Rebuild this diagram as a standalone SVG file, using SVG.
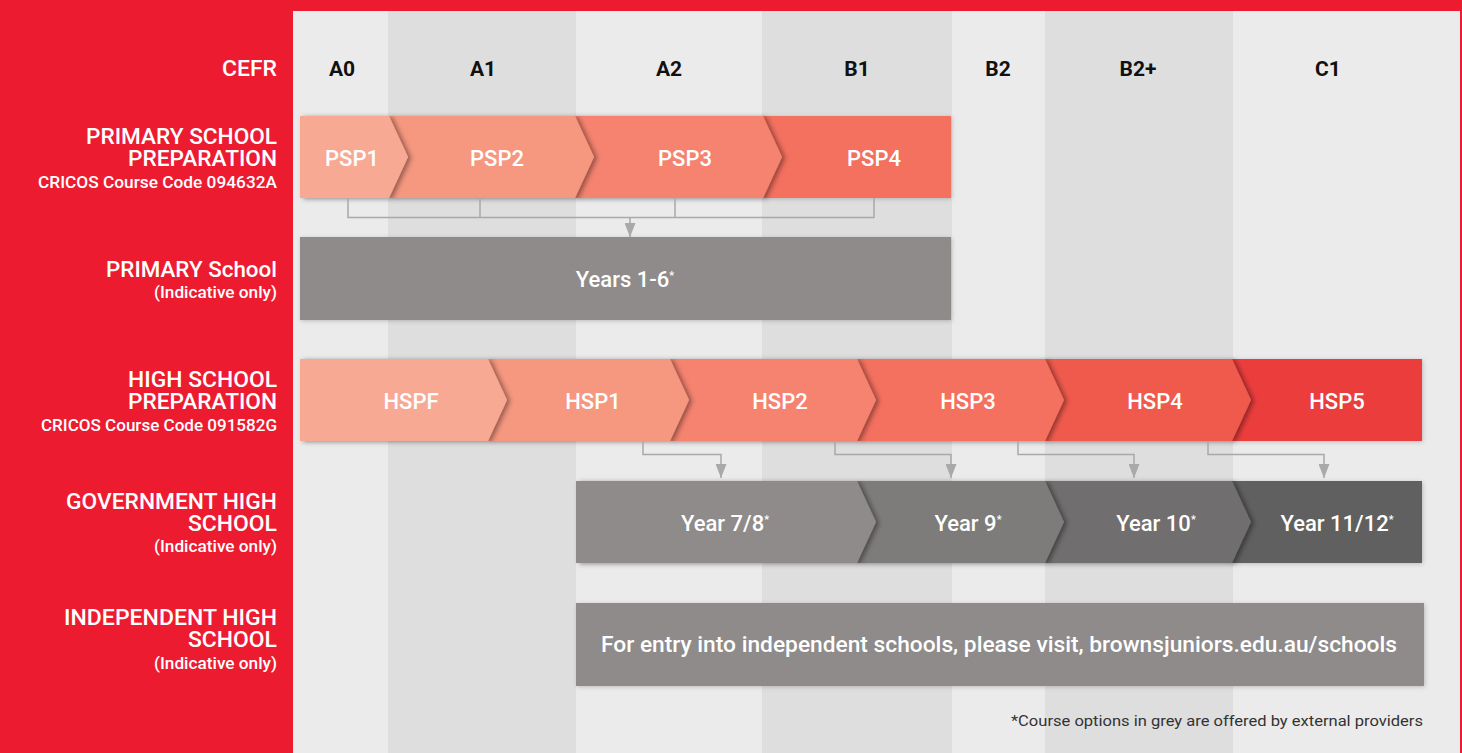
<svg xmlns="http://www.w3.org/2000/svg" width="1462" height="753" viewBox="0 0 1462 753">
<style>
.lbl{font-family:Roboto,"Liberation Sans",Arial,sans-serif;font-weight:500;fill:#fff;text-anchor:end}
.big{font-size:22px}
.sm{font-size:16.5px}
.col{font-family:Roboto,"Liberation Sans",Arial,sans-serif;font-weight:700;font-size:21px;fill:#111;text-anchor:middle}
.seg{font-family:Roboto,"Liberation Sans",Arial,sans-serif;font-weight:500;font-size:22px;fill:#fff;text-anchor:middle}
.ast{font-size:11px}
.conn{fill:none;stroke:#a9a9a9;stroke-width:1.5}
.lt{fill:#ebebeb}
.dk{fill:#dededf}
.foot{font-family:Roboto,"Liberation Sans",Arial,sans-serif;font-size:15.5px;fill:#333;text-anchor:end}
</style>
<defs>
<filter id="sh" x="-10%" y="-30%" width="130%" height="160%">
<feDropShadow dx="3" dy="1" stdDeviation="2.5" flood-color="#000" flood-opacity="0.4"/>
</filter>
<filter id="bs" x="-5%" y="-20%" width="110%" height="150%">
<feDropShadow dx="1" dy="1" stdDeviation="2" flood-color="#000" flood-opacity="0.2"/>
</filter>
<marker id="ah" viewBox="0 0 14 11" refX="14" refY="5.5" markerWidth="14" markerHeight="11" markerUnits="userSpaceOnUse" orient="auto">
<path d="M0,0 L14,5.5 L0,11 z" fill="#a9a9a9"/>
</marker>
</defs>

<rect x="0" y="0" width="1462" height="753" fill="#ed1b30"/>
<g id="columns">
<rect class="lt" x="293" y="11" width="95" height="742"/>
<rect class="dk" x="388" y="11" width="188" height="742"/>
<rect class="lt" x="576" y="11" width="186" height="742"/>
<rect class="dk" x="762" y="11" width="190" height="742"/>
<rect class="lt" x="952" y="11" width="93" height="742"/>
<rect class="dk" x="1045" y="11" width="188" height="742"/>
<rect class="lt" x="1233" y="11" width="227" height="742"/>
<text class="col" x="342" y="76">A0</text>
<text class="col" x="483" y="76">A1</text>
<text class="col" x="669" y="76">A2</text>
<text class="col" x="857" y="76">B1</text>
<text class="col" x="998" y="76">B2</text>
<text class="col" x="1138" y="76">B2+</text>
<text class="col" x="1328" y="76">C1</text>
</g>

<g id="row-labels">
<text class="lbl big" x="277" y="76" textLength="55" lengthAdjust="spacingAndGlyphs">CEFR</text>
<text class="lbl big" x="277" y="144" textLength="191" lengthAdjust="spacingAndGlyphs">PRIMARY SCHOOL</text>
<text class="lbl big" x="277" y="166" textLength="149" lengthAdjust="spacingAndGlyphs">PREPARATION</text>
<text class="lbl sm" x="277" y="188" textLength="239" lengthAdjust="spacingAndGlyphs">CRICOS Course Code 094632A</text>
<text class="lbl big" x="277" y="277" textLength="171" lengthAdjust="spacingAndGlyphs">PRIMARY School</text>
<text class="lbl sm" x="277" y="298" textLength="123" lengthAdjust="spacingAndGlyphs">(Indicative only)</text>
<text class="lbl big" x="277" y="387" textLength="149" lengthAdjust="spacingAndGlyphs">HIGH SCHOOL</text>
<text class="lbl big" x="277" y="409" textLength="149" lengthAdjust="spacingAndGlyphs">PREPARATION</text>
<text class="lbl sm" x="277" y="431" textLength="236" lengthAdjust="spacingAndGlyphs">CRICOS Course Code 091582G</text>
<text class="lbl big" x="277" y="509" textLength="211" lengthAdjust="spacingAndGlyphs">GOVERNMENT HIGH</text>
<text class="lbl big" x="277" y="531" textLength="89" lengthAdjust="spacingAndGlyphs">SCHOOL</text>
<text class="lbl sm" x="277" y="552" textLength="123" lengthAdjust="spacingAndGlyphs">(Indicative only)</text>
<text class="lbl big" x="277" y="625" textLength="213" lengthAdjust="spacingAndGlyphs">INDEPENDENT HIGH</text>
<text class="lbl big" x="277" y="647" textLength="89" lengthAdjust="spacingAndGlyphs">SCHOOL</text>
<text class="lbl sm" x="277" y="669" textLength="123" lengthAdjust="spacingAndGlyphs">(Indicative only)</text>
</g>

<g id="psp">
<g id="PSP4"><rect x="763" y="116" width="188" height="82" fill="#f46f5e" filter="url(#bs)"/><text class="seg" x="874" y="166">PSP4</text></g>
<g id="PSP3"><polygon points="575,116 763,116 782,157 763,198 575,198" fill="#f5836f" filter="url(#sh)"/><text class="seg" x="685" y="166">PSP3</text></g>
<g id="PSP2"><polygon points="389,116 575,116 594,157 575,198 389,198" fill="#f6977f" filter="url(#sh)"/><text class="seg" x="497" y="166">PSP2</text></g>
<g id="PSP1"><polygon points="300,116 389,116 408,157 389,198 300,198" fill="#f8a993" filter="url(#sh)"/><text class="seg" x="352" y="166">PSP1</text></g>
</g>

<g id="primary">
<rect x="300" y="237" width="651" height="83" fill="#8e8b8a" filter="url(#bs)"/>
<text class="seg" x="625" y="287">Years 1-6<tspan class="ast" dy="-8">*</tspan></text>
</g>

<g id="hsp">
<g id="HSP5"><rect x="1232" y="359" width="190" height="82" fill="#ec3e3c" filter="url(#bs)"/><text class="seg" x="1337" y="409">HSP5</text></g>
<g id="HSP4"><polygon points="1045,359 1232,359 1251,400 1232,441 1045,441" fill="#f05a4d" filter="url(#sh)"/><text class="seg" x="1155" y="409">HSP4</text></g>
<g id="HSP3"><polygon points="857,359 1045,359 1064,400 1045,441 857,441" fill="#f46f5e" filter="url(#sh)"/><text class="seg" x="968" y="409">HSP3</text></g>
<g id="HSP2"><polygon points="670,359 857,359 876,400 857,441 670,441" fill="#f5836f" filter="url(#sh)"/><text class="seg" x="780" y="409">HSP2</text></g>
<g id="HSP1"><polygon points="488,359 670,359 689,400 670,441 488,441" fill="#f6977f" filter="url(#sh)"/><text class="seg" x="593" y="409">HSP1</text></g>
<g id="HSPF"><polygon points="300,359 488,359 507,400 488,441 300,441" fill="#f8a993" filter="url(#sh)"/><text class="seg" x="411" y="409">HSPF</text></g>
</g>

<g id="government">
<g id="Y1112"><rect x="1232" y="481" width="190" height="82" fill="#616161" filter="url(#bs)"/><text class="seg" x="1337" y="531">Year 11/12<tspan class="ast" dy="-8">*</tspan></text></g>
<g id="Y10"><polygon points="1045,481 1232,481 1251,522 1232,563 1045,563" fill="#6f6e6e" filter="url(#sh)"/><text class="seg" x="1156" y="531">Year 10<tspan class="ast" dy="-8">*</tspan></text></g>
<g id="Y9"><polygon points="857,481 1045,481 1064,522 1045,563 857,563" fill="#7e7b7a" filter="url(#sh)"/><text class="seg" x="968" y="531">Year 9<tspan class="ast" dy="-8">*</tspan></text></g>
<g id="Y78"><polygon points="576,481 857,481 876,522 857,563 576,563" fill="#8e8b8a" filter="url(#sh)"/><text class="seg" x="725" y="531">Year 7/8<tspan class="ast" dy="-8">*</tspan></text></g>
</g>

<g id="independent">
<rect x="576" y="603" width="848" height="83" fill="#8e8b8a" filter="url(#bs)"/>
<text class="seg" x="999" y="652" textLength="796" lengthAdjust="spacingAndGlyphs">For entry into independent schools, please visit, brownsjuniors.edu.au/schools</text>
</g>

<g id="connectors">
<path class="conn" d="M348,198 V217.5 M480,198 V217.5 M675,198 V217.5 M874,198 V217.5 M347.25,217.5 H874.75"/>
<path class="conn" d="M630,217.5 V237" marker-end="url(#ah)"/>
<path class="conn" d="M643,441 V454.5 H721 V478" marker-end="url(#ah)"/>
<path class="conn" d="M835,441 V454.5 H951 V478" marker-end="url(#ah)"/>
<path class="conn" d="M1018,441 V454.5 H1134 V478" marker-end="url(#ah)"/>
<path class="conn" d="M1208,441 V454.5 H1324 V478" marker-end="url(#ah)"/>
</g>

<text class="foot" x="1423" y="726" textLength="412" lengthAdjust="spacingAndGlyphs">*Course options in grey are offered by external providers</text>
</svg>
